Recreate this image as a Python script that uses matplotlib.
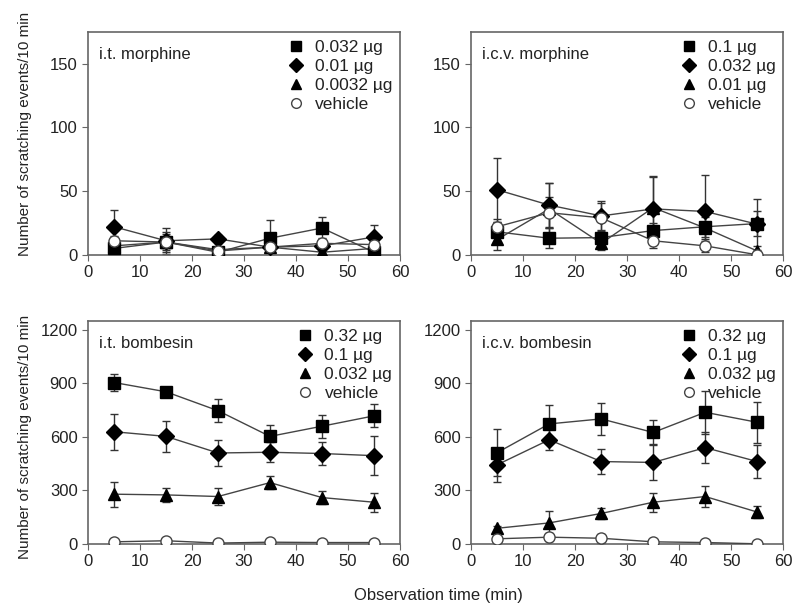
import numpy as np
import matplotlib.pyplot as plt
from matplotlib.lines import Line2D

plt.rcParams['font.family'] = ['Liberation Sans', 'DejaVu Sans']

t = [5, 15, 25, 35, 45, 55]

# i.t. morphine
itm_labels = ['0.032 µg', '0.01 µg', '0.0032 µg', 'vehicle']
itm_mean = [[5, 10, 2, 13, 21, 2],
            [22, 11, 12.5, 6, 7, 14],
            [7, 10, 4, 6, 2, 5],
            [11, 10, 3, 6, 9, 8]]
itm_err = [[3, 6, 2, 14, 9, 3],
           [13, 10, 3, 3, 4, 9],
           [3, 5, 2, 2, 2, 3],
           [4, 8, 2, 3, 4, 3]]

# i.c.v. morphine
icvm_labels = ['0.1 µg', '0.032 µg', '0.01 µg', 'vehicle']
icvm_mean = [[18, 13, 13.5, 19, 22, 24.5],
             [51, 39, 30.5, 36, 34, 24],
             [12, 36, 9, 37, 21, 3],
             [22, 33, 29, 11, 7, 0]]
icvm_err = [[8, 8, 6, 6, 8, 10],
            [25, 17, 12, 26, 29, 20],
            [8, 20, 5, 24, 10, 4],
            [6, 12, 12, 6, 5, 1]]

# i.t. bombesin
itb_labels = ['0.32 µg', '0.1 µg', '0.032 µg', 'vehicle']
itb_mean = [[904, 852, 746, 602, 659, 717],
            [628, 602, 509, 513, 506, 494],
            [278, 274, 265, 343, 259, 233],
            [11, 17, 4, 9, 7, 7]]
itb_err = [[50, 20, 65, 65, 65, 64],
           [100, 89, 71, 57, 66, 108],
           [70, 41, 46, 37, 37, 54],
           [5, 8, 3, 3, 3, 3]]

# i.c.v. bombesin
icvb_labels = ['0.32 µg', '0.1 µg', '0.032 µg', 'vehicle']
icvb_mean = [[511, 672, 700, 624, 737, 681],
             [443, 583, 461, 456, 539, 461],
             [87, 117, 170, 233, 265, 178],
             [28, 37, 31, 11, 7, 0]]
icvb_err = [[133, 108, 89, 72, 120, 115],
            [95, 59, 72, 101, 87, 93],
            [10, 68, 30, 54, 59, 35],
            [8, 24, 25, 5, 3, 2]]

markers = ['s', 'D', '^', 'o']
txt = '#222222'
spine_c = '#666666'

fig = plt.figure(figsize=(8, 6.11), dpi=100)
boxes = [[0.11, 0.583, 0.39, 0.365], [0.589, 0.583, 0.39, 0.365],
         [0.11, 0.110, 0.39, 0.365], [0.589, 0.110, 0.39, 0.365]]
panels = [('i.t. morphine', itm_labels, itm_mean, itm_err, 175, [0, 50, 100, 150]),
          ('i.c.v. morphine', icvm_labels, icvm_mean, icvm_err, 175, [0, 50, 100, 150]),
          ('i.t. bombesin', itb_labels, itb_mean, itb_err, 1250, [0, 300, 600, 900, 1200]),
          ('i.c.v. bombesin', icvb_labels, icvb_mean, icvb_err, 1250, [0, 300, 600, 900, 1200])]

for box, (title, labels, means, errs, ytop, yt) in zip(boxes, panels):
    ax = fig.add_axes(box)
    handles = []
    for i in range(4):
        filled = i < 3
        ax.errorbar(t, means[i], yerr=errs[i], fmt='none', ecolor='#333333',
                    elinewidth=1, capsize=3, capthick=1, zorder=2)
        ax.plot(t, means[i], color='#444444', lw=1, zorder=3)
        ax.plot(t, means[i], linestyle='none', marker=markers[i],
                markersize=8 if i != 1 else 8.5,
                markerfacecolor='black' if filled else 'white',
                markeredgecolor='black' if filled else '#444444',
                markeredgewidth=1, zorder=4)
        handles.append(Line2D([], [], linestyle='none', marker=markers[i],
                              markersize=7 if i != 1 else 7.5,
                              markerfacecolor='black' if filled else 'white',
                              markeredgecolor='black' if filled else '#444444'))
    ax.legend(handles, labels, loc='upper right', frameon=False, fontsize=12.5,
              handlelength=1.0, handletextpad=0.6, labelspacing=0.22,
              borderaxespad=0.05, labelcolor=txt)
    ax.text(0.035, 0.93, title, transform=ax.transAxes, fontsize=12, color=txt,
            va='top', ha='left')
    ax.set_xlim(0, 60)
    ax.set_ylim(0, ytop)
    ax.set_xticks([0, 10, 20, 30, 40, 50, 60])
    ax.set_yticks(yt)
    ax.tick_params(direction='out', length=4, labelsize=12, colors=txt,
                   color=spine_c)
    for s in ax.spines.values():
        s.set_color(spine_c)
        s.set_linewidth(1.2)

fig.text(0.031, 0.781, 'Number of scratching events/10 min', rotation=90,
         ha='center', va='center', fontsize=11, color=txt)
fig.text(0.031, 0.285, 'Number of scratching events/10 min', rotation=90,
         ha='center', va='center', fontsize=11, color=txt)
fig.text(0.548, 0.026, 'Observation time (min)', ha='center', va='center',
         fontsize=12, color=txt)

fig.savefig('out.png', dpi=100)
